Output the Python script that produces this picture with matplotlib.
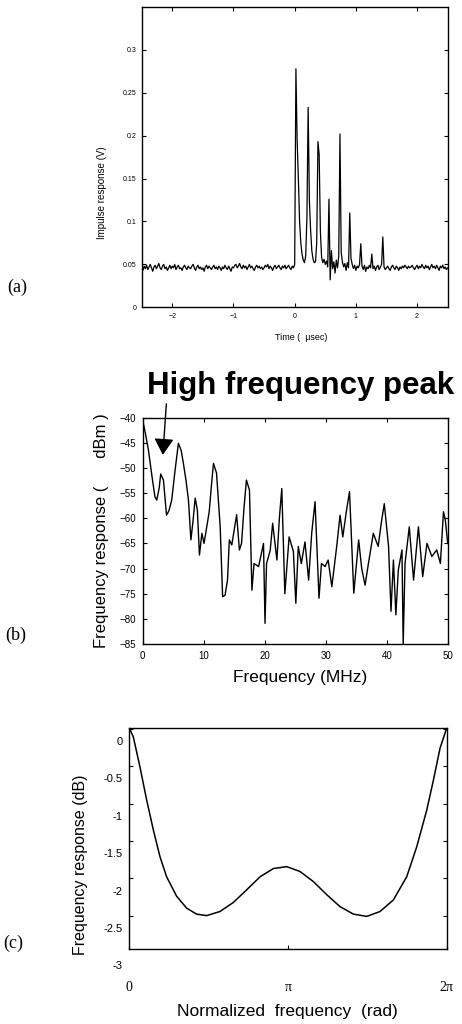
import matplotlib
matplotlib.use("Agg")
import matplotlib.pyplot as plt
import numpy as np

plt.rcParams['font.family'] = ['Liberation Sans', 'DejaVu Sans']

# ---- (a) impulse response, sampled every 0.02 usec from -2.5 to 2.5
time_us = np.round(np.arange(-2.5, 2.5001, 0.02), 2)
impulse_left = [
    0.046, 0.043, 0.048, 0.045, 0.049, 0.044, 0.047, 0.050, 0.046, 0.042,
    0.047, 0.049, 0.045, 0.048, 0.051, 0.046, 0.044, 0.048, 0.050, 0.045,
    0.047, 0.043, 0.046, 0.049, 0.045, 0.048, 0.046, 0.050, 0.044, 0.047,
    0.049, 0.045, 0.046, 0.043, 0.047, 0.049, 0.046, 0.044, 0.048, 0.046,
    0.045, 0.048, 0.050, 0.046, 0.043, 0.047, 0.049, 0.045, 0.047, 0.044,
    0.046, 0.042, 0.047, 0.049, 0.045, 0.048, 0.046, 0.044, 0.047, 0.049,
    0.045, 0.047, 0.044, 0.048, 0.046, 0.043, 0.047, 0.045, 0.049, 0.046,
    0.044, 0.048, 0.045, 0.042, 0.047, 0.046, 0.049, 0.050, 0.046, 0.048,
    0.051, 0.047, 0.045, 0.049, 0.046, 0.048, 0.044, 0.047, 0.050, 0.046,
    0.048, 0.045, 0.043, 0.047, 0.049, 0.046, 0.048, 0.045, 0.047, 0.044,
    0.046, 0.049, 0.047, 0.050, 0.045, 0.048, 0.046, 0.043, 0.047, 0.049,
    0.045, 0.047, 0.049, 0.046, 0.044, 0.048, 0.046, 0.049, 0.045, 0.047,
    0.049, 0.046, 0.044, 0.048, 0.046,
]
impulse_echo = [
    0.050, 0.278, 0.195, 0.150, 0.100, 0.075, 0.062, 0.055, 0.052, 0.060,
    0.105, 0.233, 0.125, 0.090, 0.066, 0.056, 0.052, 0.053, 0.075, 0.193,
    0.178, 0.088, 0.058, 0.052, 0.056, 0.050, 0.054, 0.047, 0.126, 0.032,
    0.066, 0.045, 0.053, 0.040, 0.055, 0.046, 0.060, 0.202, 0.064, 0.053,
    0.047, 0.051, 0.043, 0.052, 0.046, 0.110, 0.057, 0.050, 0.045, 0.049,
    0.043, 0.048, 0.046, 0.050, 0.074, 0.048, 0.044, 0.049, 0.042, 0.047,
    0.045, 0.049, 0.046, 0.062, 0.045, 0.048, 0.043, 0.047, 0.049, 0.044,
    0.047, 0.050, 0.082, 0.047, 0.044, 0.046,
]
impulse_right = [
    0.048, 0.045, 0.043, 0.047, 0.049, 0.046, 0.044, 0.048, 0.046, 0.043,
    0.047, 0.045, 0.048, 0.046, 0.049, 0.047, 0.045, 0.048, 0.046, 0.047,
    0.049, 0.046, 0.044, 0.047, 0.049, 0.045, 0.048, 0.046, 0.050, 0.047,
    0.045, 0.049, 0.046, 0.048, 0.044, 0.047, 0.050, 0.046, 0.048, 0.045,
    0.049, 0.046, 0.043, 0.048, 0.046, 0.049, 0.045, 0.047, 0.044, 0.046,
]
impulse_v = impulse_left + impulse_echo + impulse_right
a_yticks = [0, 0.05, 0.1, 0.15, 0.2, 0.25, 0.3]
a_ylabels = ['0', '0.05', '0.1', '0.15', '0.2', '0.25', '0.3']
a_xticks = [-2, -1, 0, 1, 2]

# ---- (b) measured frequency response
freq_mhz = [
    0, 0.5, 0.93, 1.5, 2.0, 2.3, 2.7, 2.95, 3.4, 3.9,
    4.3, 4.75, 5.3, 5.85, 6.3, 6.67, 7.1, 7.5, 7.9, 8.25,
    8.6, 8.96, 9.3, 9.7, 10.05, 10.5, 10.9, 11.3, 11.6, 12.1,
    12.7, 13.1, 13.5, 13.9, 14.2, 14.6, 15.0, 15.4, 15.85, 16.2,
    16.6, 17.0, 17.5, 17.9, 18.25, 19.0, 19.8, 20.05, 20.3, 20.9,
    21.3, 22.0, 22.4, 22.8, 23.3, 24.0, 24.7, 25.1, 25.5, 26.0,
    26.6, 27.2, 27.7, 28.25, 28.9, 29.3, 29.9, 30.4, 31.0, 31.8,
    32.35, 32.8, 33.4, 33.9, 34.6, 35.4, 35.9, 36.45, 37.0, 37.8,
    38.6, 39.1, 39.6, 40.3, 40.7, 41.1, 41.5, 41.9, 42.5, 42.7,
    43.0, 43.7, 44.4, 45.2, 45.9, 46.6, 47.4, 48.2, 48.8, 49.3,
    49.6, 50.0,
]
resp_dbm = [
    -40.5, -43.5, -46.4, -51.5, -55.7, -56.4, -54.0, -51.2, -52.4, -59.4,
    -58.5, -56.4, -50.5, -45.1, -46.5, -49.1, -52.5, -56.4, -64.3, -60.5,
    -56.0, -58.4, -67.3, -63.0, -65.0, -61.7, -58.7, -53.0, -49.1, -51.0,
    -61.7, -75.6, -75.3, -72.3, -64.3, -65.3, -62.3, -59.3, -66.3, -65.0,
    -58.0, -52.4, -54.4, -74.3, -69.0, -69.6, -65.0, -80.9, -69.0, -66.4,
    -61.0, -68.3, -60.0, -54.1, -75.0, -63.7, -66.6, -76.9, -65.6, -69.0,
    -64.7, -72.3, -63.0, -56.7, -75.9, -69.0, -69.6, -68.3, -73.6, -65.6,
    -59.4, -63.7, -58.5, -54.7, -74.9, -64.3, -70.0, -73.3, -69.0, -63.0,
    -65.6, -61.0, -57.1, -65.6, -78.5, -68.3, -79.2, -70.3, -66.3, -85.0,
    -69.0, -61.7, -72.3, -61.7, -71.6, -65.0, -67.6, -66.3, -69.0, -58.7,
    -60.3, -65.0,
]
b_yticks = [-40, -45, -50, -55, -60, -65, -70, -75, -80, -85]
b_xticks = [0, 10, 20, 30, 40, 50]
peak_freq, peak_db = 3.3, -47.4

# ---- (c) equalizer frequency response, x in units of pi
norm_freq_pi = [
    0, 0.025, 0.067, 0.109, 0.151, 0.193, 0.235, 0.298, 0.361, 0.424,
    0.487, 0.571, 0.655, 0.739, 0.824, 0.908, 0.992, 1.076, 1.16, 1.244,
    1.328, 1.412, 1.496, 1.58, 1.664, 1.748, 1.811, 1.874, 1.916, 1.958, 2.0,
]
resp_db = [
    0.01, -0.107, -0.51, -0.95, -1.35, -1.71, -1.98, -2.24, -2.40, -2.48,
    -2.50, -2.445, -2.325, -2.156, -1.98, -1.87, -1.845, -1.91, -2.045, -2.22,
    -2.38, -2.48, -2.51, -2.445, -2.29, -1.98, -1.58, -1.09, -0.69, -0.26, 0.01,
]
c_yticks = [0, -0.5, -1, -1.5, -2, -2.5, -3]
c_ylabels = ['0', '-0.5', '-1', '-1.5', '-2', '-2.5', '-3']
c_label_shift = 0.178  # printed labels sit a bit below their ticks
c_xticks = [0, np.pi, 2 * np.pi]
c_xlabels = ['0', 'π', '2π']

fig = plt.figure(figsize=(4.62, 10.24), dpi=100)
serif = ['Liberation Serif', 'DejaVu Serif']

# (a)
ax1 = fig.add_axes([0.3067, 0.6999, 0.6623, 0.2933])
ax1.plot(time_us, impulse_v, color='black', lw=0.9)
ax1.set_xlim(-2.5, 2.5)
ax1.set_ylim(0, 0.35)
ax1.set_yticks(a_yticks, a_ylabels)
ax1.set_xticks(a_xticks)
ax1.tick_params(direction='in', top=True, right=True, labelsize=5, length=3, pad=4)
ax1.set_ylabel('Impulse response (V)', fontsize=7, va='center')
ax1.yaxis.set_label_coords(-0.131, 0.38)
ax1.set_xlabel('Time (  μsec)', fontsize=6.5, va='center')
ax1.xaxis.set_label_coords(0.52, -0.102)
fig.text(0.015, 1 - 287 / 1024, '(a)', fontsize=13, family=serif, va='center')

# (b)
ax2 = fig.add_axes([0.3089, 0.3711, 0.6602, 0.2210])
ax2.plot(freq_mhz, resp_dbm, color='black', lw=1.0)
ax2.set_xlim(0, 50)
ax2.set_ylim(-85, -40)
ax2.set_yticks(b_yticks)
ax2.set_xticks(b_xticks)
ax2.tick_params(direction='in', top=True, right=True, labelsize=7, length=3, pad=5)
ax2.set_ylabel('Frequency response (      dBm )', fontsize=12, va='center')
ax2.yaxis.set_label_coords(-0.135, 0.5)
ax2.set_xlabel('Frequency (MHz)', fontsize=12.5, va='center')
ax2.xaxis.set_label_coords(0.516, -0.15)
ax2.annotate('High frequency peak', xy=(peak_freq, peak_db),
             xytext=(0.3182, 1 - 394 / 1024), textcoords='figure fraction',
             fontsize=22.5, fontweight='bold', va='baseline', ha='left',
             arrowprops=dict(arrowstyle='-|>,head_length=0.5,head_width=0.3',
                             color='black', lw=1, mutation_scale=20,
                             relpos=(0.064, 0.05), shrinkA=0, shrinkB=0))
fig.text(0.011, 1 - 635 / 1024, '(b)', fontsize=13, family=serif, va='center')

# (c)
ax3 = fig.add_axes([0.2799, 0.0730, 0.687, 0.2164])
ax3.plot(np.array(norm_freq_pi) * np.pi, resp_db, color='black', lw=1.1)
ax3.set_xlim(0, 2 * np.pi)
ax3.set_ylim(-2.95, 0.015)
ax3.set_yticks(c_yticks[:-1], [''] * (len(c_yticks) - 1))
for v, lab in zip(c_yticks, c_ylabels):
    ax3.text(-0.021, v - c_label_shift, lab, transform=ax3.get_yaxis_transform(),
             ha='right', va='center', fontsize=8)
ax3.set_xticks(c_xticks, c_xlabels, family=serif)
ax3.tick_params(axis='y', direction='in', right=True, length=3)
ax3.tick_params(axis='x', direction='in', length=3, labelsize=10, pad=23)
ax3.set_ylabel('Frequency response (dB)', fontsize=11.5, va='center')
ax3.yaxis.set_label_coords(-0.155, 0.38)
ax3.set_xlabel('Normalized  frequency  (rad)', fontsize=12.5, va='center')
ax3.xaxis.set_label_coords(0.497, -0.282)
fig.text(0.007, 1 - 943 / 1024, '(c)', fontsize=13, family=serif, va='center')

for ax in (ax1, ax2, ax3):
    for s in ax.spines.values():
        s.set_linewidth(1.0)

fig.savefig('out.png', dpi=100)
